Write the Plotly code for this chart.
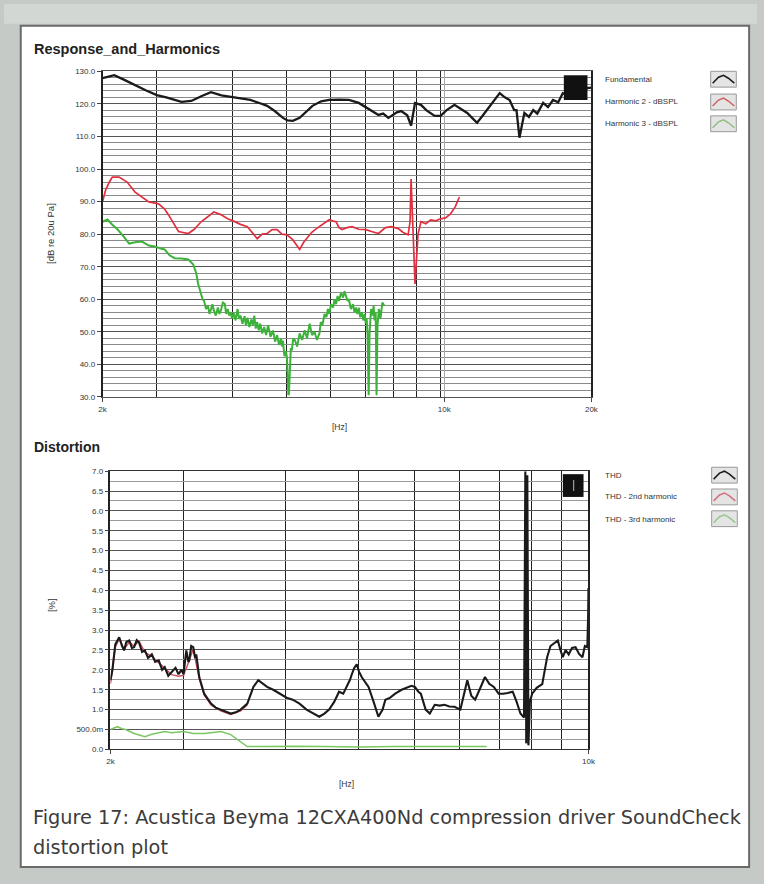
import math
import plotly.graph_objects as go

# ---------------- data ----------------
# Top chart: Response and harmonics, dB re 20uPa vs Hz
fund_f = [2000, 2060, 2113, 2200, 2331, 2450, 2582, 2700, 2900, 3038, 3200, 3332, 3500, 3656,
          3850, 4011, 4200, 4342, 4500, 4677, 4780, 4899, 5061, 5200, 5375, 5600, 5816, 6100,
          6382, 6686, 7101, 7335, 7500, 7686, 8000, 8165, 8400, 8553, 8714, 8959, 9200, 9559,
          9830, 10100, 10493, 10800, 11143, 11400, 11671, 12000, 12221, 12600, 12984, 13300,
          13604, 13900, 14053, 14250, 14585, 14900, 15206, 15500, 15931, 16300, 16690, 17100,
          17478, 18000, 18567, 19000, 19450, 20000]
fund_db = [127.9, 128.5, 128.8, 127.6, 125.7, 124.2, 122.7, 122.0, 120.6, 120.9, 122.5, 123.6,
           122.6, 122.1, 121.6, 121.2, 120.2, 119.4, 117.8, 115.7, 114.9, 114.8, 115.7, 117.5,
           119.4, 120.8, 121.2, 121.3, 121.2, 120.3, 117.8, 116.6, 117.0, 115.7, 117.4, 117.8,
           116.5, 113.3, 120.3, 119.7, 118.0, 116.3, 116.3, 118.0, 119.7, 118.5, 117.2, 115.7,
           114.2, 116.5, 118.1, 120.8, 123.3, 122.0, 121.2, 118.1, 118.1, 109.6, 117.2, 116.0,
           118.1, 117.0, 120.3, 119.0, 121.2, 120.5, 123.3, 122.5, 125.4, 124.0, 124.8, 125.0]

h2_f = [2000, 2028, 2065, 2094, 2162, 2245, 2331, 2407, 2487, 2604, 2679, 2729, 2793, 2860,
        2996, 3080, 3182, 3286, 3379, 3491, 3606, 3708, 3830, 3956, 4049, 4144, 4242, 4342,
        4445, 4550, 4656, 4766, 4899, 4993, 5061, 5158, 5229, 5351, 5477, 5632, 5816, 5925,
        6008, 6093, 6177, 6325, 6474, 6686, 6908, 7101, 7335, 7581, 7795, 8052, 8241, 8434,
        8512, 8553, 8634, 8714, 8838, 8959, 9168, 9384, 9604, 9830, 10062, 10298, 10541, 10737]
h2_db = [89.9, 93.5, 96.0, 97.5, 97.5, 96.0, 92.9, 91.5, 89.9, 89.3, 87.7, 85.9, 83.5, 80.8,
         80.2, 81.5, 83.8, 85.5, 86.8, 86.0, 84.7, 84.0, 83.0, 82.3, 80.5, 78.6, 80.0, 80.2,
         81.4, 81.4, 80.0, 79.8, 78.3, 76.5, 75.3, 77.5, 78.6, 80.5, 81.7, 83.0, 84.4, 84.0,
         83.8, 82.0, 81.4, 82.0, 82.3, 81.5, 81.4, 80.8, 80.2, 82.0, 82.3, 81.7, 80.5, 79.8,
         83.8, 96.9, 80.0, 64.7, 80.0, 83.8, 83.2, 84.4, 84.1, 84.7, 85.0, 86.2, 88.5, 91.4]

h3_f = [2000, 2047, 2094, 2145, 2195, 2267, 2331, 2407, 2487, 2557, 2643, 2679, 2742, 2808,
        2900, 2996, 3066, 3109, 3138, 3182, 3204, 3226, 3256, 3286, 3309, 3332, 3355, 3379,
        3410, 3443, 3467, 3491, 3524, 3557, 3580, 3606, 3630, 3656, 3682, 3708, 3742, 3777,
        3803, 3830, 3866, 3903, 3930, 3956, 3993, 4030, 4058, 4087, 4115, 4144, 4173, 4203,
        4242, 4281, 4320, 4362, 4412, 4464, 4507, 4550, 4592, 4635, 4656, 4677, 4710, 4743,
        4766, 4788, 4800, 4811, 4833, 4855, 4877, 4910, 4945, 5000, 5061, 5120, 5182, 5240,
        5304, 5365, 5427, 5490, 5555, 5590, 5632, 5690, 5740, 5780, 5816, 5870, 5925, 5965,
        6008, 6050, 6093, 6150, 6209, 6250, 6295, 6340, 6382, 6440, 6504, 6550, 6594, 6640,
        6686, 6730, 6780, 6830, 6875, 6910, 6939, 6970, 7004, 7036, 7085, 7135, 7170, 7201,
        7240, 7269, 7303, 7350, 7404, 7470, 7543]
h3_db = [83.8, 84.5, 82.9, 81.5, 79.8, 77.1, 77.5, 77.7, 76.5, 76.2, 75.5, 75.3, 73.5, 72.6,
         72.5, 72.2, 70.7, 68.0, 64.7, 62.0, 60.0, 59.5, 57.0, 58.0, 55.5, 56.8, 58.5, 56.5,
         55.0, 57.5, 55.5, 56.5, 59.0, 58.6, 55.5, 57.0, 55.0, 56.0, 54.0, 55.8, 53.5, 57.0,
         54.0, 55.0, 52.5, 54.8, 52.0, 54.3, 51.5, 53.8, 52.0, 55.0, 51.0, 53.0, 50.5, 52.5,
         49.5, 51.5, 49.0, 52.0, 48.5, 50.4, 47.0, 49.0, 46.0, 48.0, 45.5, 47.3, 42.5, 44.0,
         42.2, 35.0, 30.5, 31.0, 38.0, 45.0, 44.3, 48.0, 47.5, 45.5, 49.5, 47.5, 50.5, 48.0,
         52.5, 49.0, 50.0, 47.5, 49.5, 53.0, 52.0, 55.5, 54.5, 57.0, 55.5, 58.5, 57.5, 60.0,
         58.5, 61.0, 59.5, 62.0, 60.5, 62.5, 61.0, 59.5, 60.0, 57.0, 58.5, 56.0, 57.5, 55.5,
         57.4, 54.5, 56.0, 53.5, 55.5, 52.5, 54.0, 49.0, 30.5, 50.0, 57.0, 55.0, 58.0, 53.5,
         56.0, 30.5, 52.0, 57.0, 54.0, 59.0, 58.0]

# Bottom chart: Distortion, % vs Hz
thd_f = [2000, 2013, 2033, 2060, 2080, 2094, 2110, 2131, 2150, 2166, 2185, 2202, 2225, 2246,
         2270, 2299, 2325, 2353, 2380, 2401, 2430, 2457, 2490, 2515, 2540, 2558, 2582, 2600,
         2608, 2625, 2643, 2660, 2670, 2697, 2742, 2780, 2806, 2850, 2900, 2950, 2998, 3050,
         3100, 3171, 3236, 3290, 3340, 3389, 3460, 3538, 3620, 3694, 3780, 3870, 3950, 4040,
         4110, 4176, 4250, 4318, 4380, 4434, 4480, 4508, 4545, 4583, 4620, 4660, 4710, 4769,
         4850, 4930, 5000, 5047, 5130, 5217, 5330, 5447, 5510, 5575, 5640, 5687, 5780, 5861,
         5959, 6060, 6159, 6260, 6368, 6497, 6650, 6740, 6828, 6950, 7058, 7160, 7271, 7390,
         7504, 7620, 7749, 7850, 7953, 8050, 8085, 8110, 8140, 8170, 8210, 8273, 8400, 8559,
         8701, 8800, 8874, 9020, 9100, 9171, 9260, 9355, 9460, 9574, 9690, 9799, 9880, 9962,
         9990, 10000]
thd_pct = [1.74, 1.99, 2.64, 2.82, 2.60, 2.49, 2.70, 2.74, 2.55, 2.57, 2.75, 2.69, 2.45, 2.49,
           2.30, 2.39, 2.20, 2.24, 2.00, 2.07, 1.85, 1.94, 2.05, 1.89, 2.00, 1.89, 2.49, 2.20,
           2.24, 2.60, 2.57, 2.30, 2.39, 1.82, 1.40, 1.25, 1.15, 1.05, 1.00, 0.95, 0.90, 0.93,
           1.00, 1.15, 1.57, 1.74, 1.65, 1.57, 1.50, 1.40, 1.30, 1.25, 1.15, 1.00, 0.92, 0.82,
           0.90, 1.00, 1.20, 1.45, 1.40, 1.57, 1.75, 1.89, 2.05, 2.14, 1.95, 1.82, 1.70, 1.57,
           1.20, 0.82, 1.00, 1.25, 1.30, 1.40, 1.50, 1.57, 1.60, 1.57, 1.45, 1.40, 1.00, 0.90,
           1.12, 1.10, 1.12, 1.08, 1.07, 1.00, 1.74, 1.35, 1.25, 1.55, 1.82, 1.65, 1.57, 1.40,
           1.40, 1.42, 1.45, 1.20, 0.90, 0.80, 7.00, 0.15, 6.90, 0.10, 1.20, 1.40, 1.55, 1.64,
           2.32, 2.60, 2.64, 2.74, 2.50, 2.32, 2.50, 2.39, 2.55, 2.57, 2.40, 2.32, 2.60, 2.57,
           3.40, 4.06]

h2thd_f = [2000, 2033, 2060, 2094, 2131, 2166, 2202, 2246, 2299, 2353, 2401, 2457, 2515, 2558,
           2600, 2643, 2697, 2742, 2806, 2900, 2998, 3100, 3171]
h2thd_pct = [1.65, 2.58, 2.78, 2.52, 2.70, 2.60, 2.72, 2.44, 2.34, 2.18, 2.02, 1.88, 1.84, 1.86,
             2.18, 2.52, 1.78, 1.37, 1.12, 0.97, 0.88, 0.97, 1.12]

h3thd_f = [2000, 2047, 2080, 2104, 2166, 2246, 2299, 2401, 2457, 2558, 2643, 2742, 2806, 2900,
           2998, 3100, 3171, 3389, 3700, 4100, 4600, 5200, 5800, 6400, 7100]
h3thd_pct = [0.50, 0.57, 0.52, 0.50, 0.40, 0.32, 0.38, 0.45, 0.42, 0.45, 0.40, 0.40, 0.42, 0.45,
             0.37, 0.20, 0.07, 0.07, 0.08, 0.07, 0.06, 0.07, 0.07, 0.06, 0.07]

# axis tick labels
top_xticks = [2000, 10000, 20000]
top_xlabels = ["2k", "10k", "20k"]
top_yticks = [30, 40, 50, 60, 70, 80, 90, 100, 110, 120, 130]
bot_xticks = [2000, 10000]
bot_xlabels = ["2k", "10k"]
bot_yticks = [0, 0.5, 1.0, 1.5, 2.0, 2.5, 3.0, 3.5, 4.0, 4.5, 5.0, 5.5, 6.0, 6.5, 7.0]
bot_ylabels = ["0.0", "500.0m", "1.0", "1.5", "2.0", "2.5", "3.0", "3.5", "4.0", "4.5",
               "5.0", "5.5", "6.0", "6.5", "7.0"]
# vertical grid frequencies as drawn in the picture
top_grid_f = [2582, 3692, 4766, 5844, 6908, 7866, 8794, 9830]
bot_grid_f = [2558, 3610, 4614, 5575, 6474, 7418, 8248, 9140]

# ---------------- layout helpers ----------------
W, H = 764, 884
def px(x):
    return x / W
def py(y):
    return 1 - y / H

BLACK = "#1a1a1a"
RED = "#e03040"
GREEN = "#3db23a"
GREEN2 = "#7cc663"

fig = go.Figure()
fig.add_trace(go.Scatter(x=h3_f, y=h3_db, mode="lines", line=dict(color=GREEN, width=2),
                         xaxis="x", yaxis="y", showlegend=False))
fig.add_trace(go.Scatter(x=h2_f, y=h2_db, mode="lines", line=dict(color=RED, width=1.7),
                         xaxis="x", yaxis="y", showlegend=False))
fig.add_trace(go.Scatter(x=fund_f, y=fund_db, mode="lines", line=dict(color=BLACK, width=2.3),
                         xaxis="x", yaxis="y", showlegend=False))
fig.add_trace(go.Scatter(x=h3thd_f, y=h3thd_pct, mode="lines", line=dict(color=GREEN2, width=1.5),
                         xaxis="x2", yaxis="y2", showlegend=False))
fig.add_trace(go.Scatter(x=h2thd_f, y=h2thd_pct, mode="lines", line=dict(color="#d05060", width=1.5),
                         xaxis="x2", yaxis="y2", showlegend=False))
fig.add_trace(go.Scatter(x=thd_f, y=thd_pct, mode="lines", line=dict(color=BLACK, width=2.1),
                         xaxis="x2", yaxis="y2", showlegend=False))

tickfont = dict(family="Liberation Sans, Arial", size=8, color="#333")

fig.update_layout(
    width=W, height=H,
    margin=dict(l=0, r=0, t=0, b=0),
    paper_bgcolor="#c6cac6",
    plot_bgcolor="white",
    showlegend=False,
    xaxis=dict(type="log", range=[math.log10(2000), math.log10(20000)],
               domain=[px(100), px(596)], anchor="y",
               tickvals=top_xticks, ticktext=top_xlabels, ticks="outside", ticklen=4,
               tickcolor="#444", tickfont=tickfont,
               showgrid=True, gridcolor="#aaa", gridwidth=0.8,
               minor=dict(tickvals=top_grid_f, showgrid=True, gridcolor="#222",
                          gridwidth=1.4, ticks=""),
               showline=True, linecolor="#555", linewidth=1, mirror=True, zeroline=False),
    yaxis=dict(range=[30, 130], domain=[py(397), py(68)], anchor="x",
               tickvals=top_yticks, tickformat=".1f", ticks="outside", ticklen=4,
               tickcolor="#444", tickfont=tickfont,
               showgrid=True, gridcolor="#555", gridwidth=1,
               minor=dict(dtick=2, showgrid=True, gridcolor="#8a8a8a", gridwidth=1, ticks=""),
               showline=True, linecolor="#222", linewidth=1.5, mirror=True, zeroline=False),
    xaxis2=dict(type="log", range=[math.log10(2000), math.log10(10000)],
                domain=[px(108), px(593)], anchor="y2",
                tickvals=bot_xticks, ticktext=bot_xlabels, ticks="outside", ticklen=4,
                tickcolor="#444", tickfont=tickfont,
                showgrid=False,
                minor=dict(tickvals=bot_grid_f, showgrid=True, gridcolor="#222",
                           gridwidth=1.4, ticks=""),
                showline=True, linecolor="#333", linewidth=1.2, mirror=True, zeroline=False),
    yaxis2=dict(range=[0, 7.0], domain=[py(753), py(472)], anchor="x2",
                tickvals=bot_yticks, ticktext=bot_ylabels, ticks="outside", ticklen=4,
                tickcolor="#444", tickfont=tickfont,
                showgrid=True, gridcolor="#555", gridwidth=1.2,
                minor=dict(dtick=0.25, showgrid=True, gridcolor="#9a9a9a", gridwidth=1, ticks=""),
                showline=True, linecolor="#222", linewidth=1.5, mirror=True, zeroline=False),
)

shapes = []
# white panel with frame
shapes.append(dict(type="rect", xref="paper", yref="paper", x0=px(0), x1=px(764),
                   y0=py(20), y1=py(0), fillcolor="#d3d7d3", line=dict(width=0), layer="below"))
shapes.append(dict(type="rect", xref="paper", yref="paper", x0=px(17), x1=px(756),
                   y0=py(872), y1=py(22), fillcolor="white", line=dict(color="#6a6a6a", width=2),
                   layer="below"))

# cursor blocks
shapes.append(dict(type="rect", xref="paper", yref="paper", x0=px(568), x1=px(592),
                   y0=py(97), y1=py(72), fillcolor="#111", line=dict(width=0)))
shapes.append(dict(type="rect", xref="paper", yref="paper", x0=px(567), x1=px(588),
                   y0=py(498), y1=py(475), fillcolor="#111", line=dict(width=0)))
shapes.append(dict(type="line", xref="paper", yref="paper", x0=px(578), x1=px(578),
                   y0=py(492), y1=py(481), line=dict(color="#bbb", width=1)))

# legend icons
def icon(x0, y0, color, shapes):
    x1, y1 = x0 + 26, y0 + 16
    shapes.append(dict(type="rect", xref="paper", yref="paper", x0=px(x0), x1=px(x1),
                       y0=py(y1), y1=py(y0), fillcolor="#e4e4e4",
                       line=dict(color="#999", width=1)))
    pts = [(x0 + 2, y0 + 12), (x0 + 8, y0 + 6), (x0 + 13, y0 + 4), (x0 + 18, y0 + 7),
           (x0 + 24, y0 + 12)]
    path = "M " + " L ".join(f"{px(a):.5f},{py(b):.5f}" for a, b in pts)
    shapes.append(dict(type="path", xref="paper", yref="paper", path=path,
                       line=dict(color=color, width=1.5)))

icon(717, 68, BLACK, shapes)
icon(717, 91, "#d06060", shapes)
icon(717, 113, "#8bbf80", shapes)
icon(718, 468, BLACK, shapes)
icon(718, 490, "#d07080", shapes)
icon(718, 512, "#9cc590", shapes)

fig.update_layout(shapes=shapes)

ann = []
def text(x, y, s, size=8, bold=False, xanchor="left", color="#333", family="Liberation Sans, Arial",
         angle=0):
    ann.append(dict(x=px(x), y=py(y), xref="paper", yref="paper", text=(f"<b>{s}</b>" if bold else s),
                    showarrow=False, xanchor=xanchor, yanchor="middle", textangle=angle,
                    font=dict(family=family, size=size, color=color)))

text(28, 45, "Response_and_Harmonics", size=14.5, bold=True, color="#222")
text(28, 448, "Distortion", size=14, bold=True, color="#222")
text(47, 232, "[dB re 20u Pa]", size=9.5, xanchor="center", angle=-90)
text(49, 607, "[%]", size=9.5, xanchor="center", angle=-90)
text(340, 427, "[Hz]", size=8.5, xanchor="center")
text(347, 788, "[Hz]", size=8.5, xanchor="center")

text(608, 76, "Fundamental", size=8)
text(608, 99, "Harmonic 2 - dBSPL", size=8)
text(608, 121, "Harmonic 3 - dBSPL", size=8)
text(608, 476, "THD", size=8)
text(608, 498, "THD - 2nd harmonic", size=8)
text(608, 521, "THD - 3rd harmonic", size=8)

text(27, 822, "Figure 17: Acustica Beyma 12CXA400Nd compression driver SoundCheck", size=19.3,
     color="#3c3c3c", family="DejaVu Sans")
text(27, 852, "distortion plot", size=19.3, color="#3c3c3c", family="DejaVu Sans")

fig.update_layout(annotations=ann)

fig.write_html("out.html")
